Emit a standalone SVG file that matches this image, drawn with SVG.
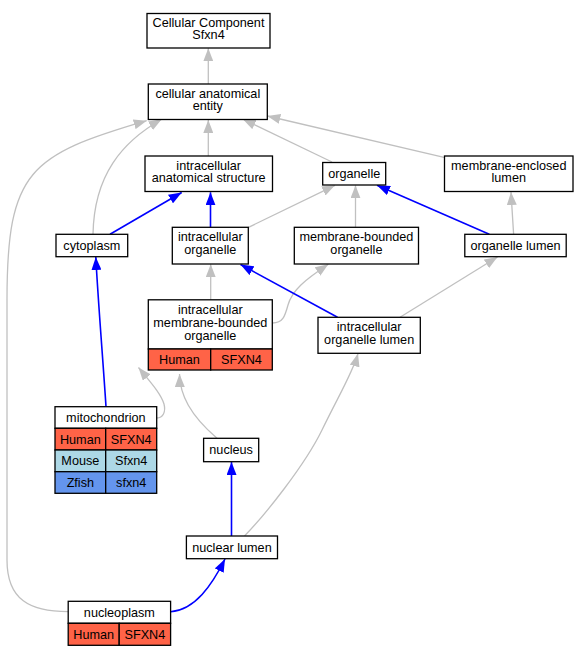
<svg xmlns="http://www.w3.org/2000/svg" width="586" height="656" viewBox="0 0 586 656">
<style>
text{font-family:"Liberation Sans",Arial,sans-serif;font-size:12.67px;fill:#000;text-anchor:middle}
.box{fill:#fff;stroke:#000;stroke-width:1.3}
.hu{fill:#ff6347;stroke:#000;stroke-width:1.3}
.mo{fill:#add8e6;stroke:#000;stroke-width:1.3}
.zf{fill:#6495ed;stroke:#000;stroke-width:1.3}
.g{fill:none;stroke:#c0c0c0;stroke-width:1.3;marker-end:url(#ag)}
.b{fill:none;stroke:#0000ff;stroke-width:1.6;marker-end:url(#ab)}
</style>
<defs>
<marker id="ag" viewBox="0 0 13 10" refX="13" refY="5" markerUnits="userSpaceOnUse" markerWidth="13" markerHeight="10" orient="auto"><path d="M0,0 L13,5 L0,10 z" fill="#c0c0c0"/></marker>
<marker id="ab" viewBox="0 0 13 10" refX="13" refY="5" markerUnits="userSpaceOnUse" markerWidth="13" markerHeight="10" orient="auto"><path d="M0,0 L13,5 L0,10 z" fill="#0000ff"/></marker>
</defs>
<rect width="586" height="656" fill="#fff"/>
<g id="edges">
<path class="g" d="M208.3,84 L208.3,48.3"/>
<path class="g" d="M208.3,156 L208.3,120"/>
<path class="g" d="M332,162 L242.7,119"/>
<path class="g" d="M444,157.3 L267.3,116"/>
<path class="g" d="M93,234.3 C94,175 122,142 161.7,119.3"/>
<path class="g" d="M68.2,611.7 C30,611.7 7,600 7,560 L7,300 C7,170 30,155 146.7,120.7"/>
<path class="b" d="M110,234.3 L181.7,192.5"/>
<path class="b" d="M210.5,227.3 L210.5,192.3"/>
<path class="g" d="M248.5,227.3 L335,185.3"/>
<path class="g" d="M355.5,227.3 L355.5,185.3"/>
<path class="b" d="M489.3,234.3 L377,185.3"/>
<path class="g" d="M513.6,234.3 L511,192"/>
<path class="g" d="M210.7,299.8 L210.7,264.2"/>
<path class="g" d="M272.5,323 C283,323 285,316 288,305 C292,290 305,280 328.3,264.3"/>
<path class="b" d="M337.5,317.3 L240.5,264.5"/>
<path class="g" d="M400,317.3 L497.5,257"/>
<path class="b" d="M106,406.7 C103,360 98,300 95.8,257"/>
<path class="g" d="M156.7,418 C163,418 166,412 164,404 C161,394 152,384 138.5,367.5"/>
<path class="g" d="M217,438.3 C190,415 180,395 179.5,374"/>
<path class="b" d="M231.5,536 L231.5,462"/>
<path class="g" d="M244.5,536 C265,515 305,465 322,430 C339,395 353,372 358,353.5"/>
<path class="b" d="M170.6,611.7 C195,610 212,585 225,559"/>
</g>
<g id="cc">
<rect class="box" x="147" y="13.5" width="123" height="34.5"/>
<text x="208.5" y="26.6">Cellular Component</text>
<text x="208.5" y="39.3">Sfxn4</text>
</g>
<g id="cae">
<rect class="box" x="148.3" y="84" width="119" height="35.5"/>
<text x="207.8" y="97.5">cellular anatomical</text>
<text x="207.8" y="110.2">entity</text>
</g>
<g id="ias">
<rect class="box" x="145" y="156" width="127.5" height="35.5"/>
<text x="208.7" y="169.5">intracellular</text>
<text x="208.7" y="182.2">anatomical structure</text>
</g>
<g id="organelle">
<rect class="box" x="322.7" y="162.5" width="63" height="22.5"/>
<text x="354.2" y="178.1">organelle</text>
</g>
<g id="mel">
<rect class="box" x="444.5" y="156" width="128.5" height="35.5"/>
<text x="508.75" y="169.5">membrane-enclosed</text>
<text x="508.75" y="182.2">lumen</text>
</g>
<g id="cytoplasm">
<rect class="box" x="56" y="234.3" width="71.7" height="22.4"/>
<text x="91.85" y="249.9">cytoplasm</text>
</g>
<g id="io">
<rect class="box" x="172.3" y="227.3" width="76" height="36.7"/>
<text x="210.3" y="241.45">intracellular</text>
<text x="210.3" y="254.15">organelle</text>
</g>
<g id="mbo">
<rect class="box" x="294.3" y="227.3" width="124.2" height="36.7"/>
<text x="356.4" y="241.45">membrane-bounded</text>
<text x="356.4" y="254.15">organelle</text>
</g>
<g id="ol">
<rect class="box" x="464.8" y="234.3" width="101.4" height="22.4"/>
<text x="515.5" y="249.9">organelle lumen</text>
</g>
<g id="imbo">
<rect class="box" x="148.3" y="299.8" width="124" height="49.2"/>
<rect class="hu" x="148.3" y="349" width="62.4" height="21"/>
<rect class="hu" x="210.7" y="349" width="61.6" height="21"/>
<text x="210.3" y="314.1">intracellular</text>
<text x="210.3" y="326.8">membrane-bounded</text>
<text x="210.3" y="339.5">organelle</text>
<text x="179.5" y="363.9">Human</text>
<text x="241.5" y="363.9">SFXN4</text>
</g>
<g id="iol">
<rect class="box" x="318" y="317.3" width="102.3" height="36"/>
<text x="369.15" y="331.1">intracellular</text>
<text x="369.15" y="343.8">organelle lumen</text>
</g>
<g id="mito">
<rect class="box" x="55" y="406.7" width="101.7" height="21.6"/>
<rect class="hu" x="55" y="428.3" width="50.7" height="21.7"/>
<rect class="hu" x="105.7" y="428.3" width="51" height="21.7"/>
<rect class="mo" x="55" y="450" width="50.7" height="21.7"/>
<rect class="mo" x="105.7" y="450" width="51" height="21.7"/>
<rect class="zf" x="55" y="471.7" width="50.7" height="21.6"/>
<rect class="zf" x="105.7" y="471.7" width="51" height="21.6"/>
<text x="105.85" y="421.9">mitochondrion</text>
<text x="80.35" y="443.6">Human</text>
<text x="131.2" y="443.6">SFXN4</text>
<text x="80.35" y="465.3">Mouse</text>
<text x="131.2" y="465.3">Sfxn4</text>
<text x="80.35" y="486.9">Zfish</text>
<text x="131.2" y="486.9">sfxn4</text>
</g>
<g id="nucleus">
<rect class="box" x="203.6" y="438.3" width="55.1" height="23.4"/>
<text x="231.15" y="454.4">nucleus</text>
</g>
<g id="nuclear_lumen">
<rect class="box" x="186.4" y="536" width="91.1" height="22.7"/>
<text x="231.95" y="551.75">nuclear lumen</text>
</g>
<g id="nucleoplasm">
<rect class="box" x="68.2" y="601.3" width="102.4" height="22"/>
<rect class="hu" x="68.2" y="623.3" width="51" height="22"/>
<rect class="hu" x="119.2" y="623.3" width="51.4" height="22"/>
<text x="119.4" y="616.7">nucleoplasm</text>
<text x="93.7" y="638.7">Human</text>
<text x="144.9" y="638.7">SFXN4</text>
</g>
</svg>
